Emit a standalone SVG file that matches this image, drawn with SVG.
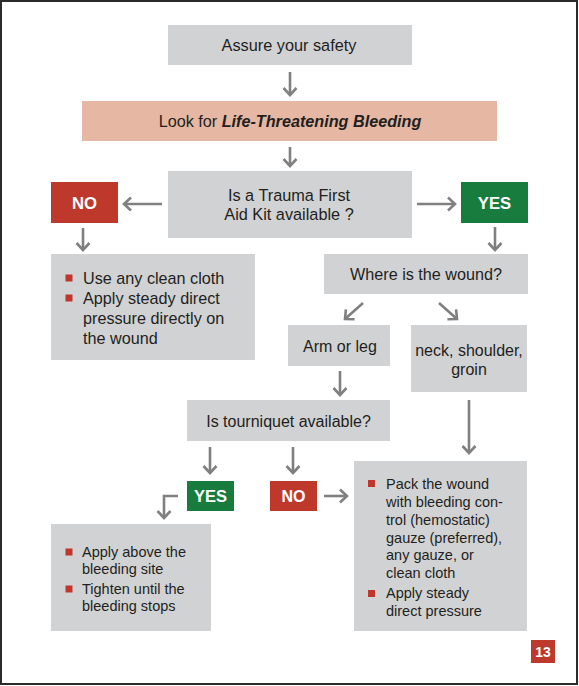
<svg xmlns="http://www.w3.org/2000/svg" width="579" height="686" viewBox="0 0 579 686">
<defs>
<marker id="ah" markerUnits="userSpaceOnUse" markerWidth="20" markerHeight="20" refX="10" refY="10" orient="auto" viewBox="0 0 20 20">
<path d="M3,3.5 L10,10 L3,16.5" fill="none" stroke="#808080" stroke-width="2.6"/>
</marker>
</defs>
<style>
.box{fill:#d1d2d4}
.pink{fill:#e6b8a3}
.red{fill:#bf382c}
.green{fill:#177c3d}
.bul{fill:#c0362c}
.t{font-family:"Liberation Sans",Arial,sans-serif;fill:#231f20}
.c{text-anchor:middle}
.w{font-family:"Liberation Sans",Arial,sans-serif;fill:#ffffff;font-weight:bold;text-anchor:middle}
.a{fill:none;stroke:#808080;stroke-width:2.6;marker-end:url(#ah)}
</style>
<rect x="1" y="1" width="576" height="683" fill="#ffffff" stroke="#2b2b2b" stroke-width="2"/>

<g id="connectors">
<line class="a" x1="290" y1="72" x2="290" y2="95"/>
<line class="a" x1="290" y1="147" x2="290" y2="166"/>
<line class="a" x1="162" y1="204" x2="124" y2="204"/>
<line class="a" x1="417" y1="204" x2="455" y2="204"/>
<line class="a" x1="83" y1="228" x2="83" y2="250"/>
<line class="a" x1="495" y1="227" x2="495" y2="250"/>
<line class="a" x1="363" y1="303" x2="345" y2="319"/>
<line class="a" x1="439" y1="303" x2="457" y2="319"/>
<line class="a" x1="340" y1="371" x2="340" y2="395"/>
<line class="a" x1="469" y1="400" x2="469" y2="453"/>
<line class="a" x1="210" y1="447" x2="210" y2="473"/>
<line class="a" x1="293" y1="447" x2="293" y2="473"/>
<path class="a" d="M178,496 H164 V518"/>
<line class="a" x1="324" y1="496" x2="347" y2="496"/>
</g>

<g id="assure">
<rect class="box" x="168" y="25" width="244" height="40"/>
<text class="t c" x="289" y="51" font-size="16.3">Assure your safety</text>
</g>

<g id="look">
<rect class="pink" x="82" y="101" width="415" height="40"/>
<text class="t c" x="290" y="127" font-size="16.2">Look for <tspan font-weight="bold" font-style="italic">Life-Threatening Bleeding</tspan></text>
</g>

<g id="kit">
<rect class="box" x="168" y="171" width="244" height="67"/>
<text class="t c" x="289" y="201" font-size="16.3">Is a Trauma First</text>
<text class="t c" x="289" y="219.5" font-size="16.3">Aid Kit available ?</text>
</g>

<g id="no1">
<rect class="red" x="51" y="182" width="67" height="41"/>
<text class="w" x="84.5" y="208.5" font-size="16.7">NO</text>
</g>

<g id="yes1">
<rect class="green" x="461" y="182" width="67" height="41"/>
<text class="w" x="494.5" y="208.5" font-size="16.7">YES</text>
</g>

<g id="cloth">
<rect class="box" x="51" y="254" width="204" height="106"/>
<rect class="bul" x="65.5" y="274.5" width="7" height="7"/>
<rect class="bul" x="65.5" y="294.5" width="7" height="7"/>
<text class="t" x="83" y="284" font-size="16.2">Use any clean cloth</text>
<text class="t" x="83" y="304" font-size="16.2">Apply steady direct</text>
<text class="t" x="83" y="324" font-size="16.2">pressure directly on</text>
<text class="t" x="83" y="343.5" font-size="16.2">the wound</text>
</g>

<g id="where">
<rect class="box" x="324" y="254" width="204" height="40"/>
<text class="t c" x="426" y="280" font-size="16.2">Where is the wound?</text>
</g>

<g id="arm">
<rect class="box" x="288" y="325" width="102" height="41"/>
<text class="t c" x="340" y="351.5" font-size="16">Arm or leg</text>
</g>

<g id="neck">
<rect class="box" x="411" y="325" width="116" height="67"/>
<text class="t c" x="469" y="355.5" font-size="16">neck, shoulder,</text>
<text class="t c" x="469" y="374.5" font-size="16">groin</text>
</g>

<g id="tourniquet">
<rect class="box" x="187" y="400" width="203" height="41"/>
<text class="t c" x="288.5" y="426.5" font-size="16">Is tourniquet available?</text>
</g>

<g id="yes2">
<rect class="green" x="187" y="481" width="47" height="30"/>
<text class="w" x="210.5" y="502" font-size="16.5">YES</text>
</g>

<g id="no2">
<rect class="red" x="270" y="481" width="47" height="30"/>
<text class="w" x="293.5" y="502" font-size="16">NO</text>
</g>

<g id="apply">
<rect class="box" x="51" y="524" width="160" height="107"/>
<rect class="bul" x="65.5" y="548.5" width="7" height="7"/>
<rect class="bul" x="65.5" y="585.5" width="7" height="7"/>
<text class="t" x="82" y="557" font-size="14.5">Apply above the</text>
<text class="t" x="82" y="574" font-size="14.5">bleeding site</text>
<text class="t" x="82" y="594" font-size="14.5">Tighten until the</text>
<text class="t" x="82" y="611" font-size="14.5">bleeding stops</text>
</g>

<g id="pack">
<rect class="box" x="354" y="461" width="173" height="170"/>
<rect class="bul" x="368" y="480" width="7" height="7"/>
<rect class="bul" x="368" y="590" width="7" height="7"/>
<text class="t" x="386" y="488.5" font-size="14.5">Pack the wound</text>
<text class="t" x="386" y="506.5" font-size="14.5">with bleeding con-</text>
<text class="t" x="386" y="524.5" font-size="14.5">trol (hemostatic)</text>
<text class="t" x="386" y="542.5" font-size="14.5">gauze (preferred),</text>
<text class="t" x="386" y="560" font-size="14.5">any gauze, or</text>
<text class="t" x="386" y="577.5" font-size="14.5">clean cloth</text>
<text class="t" x="386" y="598" font-size="14.5">Apply steady</text>
<text class="t" x="386" y="615.5" font-size="14.5">direct pressure</text>
</g>

<g id="page">
<rect class="red" x="531" y="640" width="24" height="23"/>
<text class="w" x="543" y="657" font-size="14">13</text>
</g>
</svg>
